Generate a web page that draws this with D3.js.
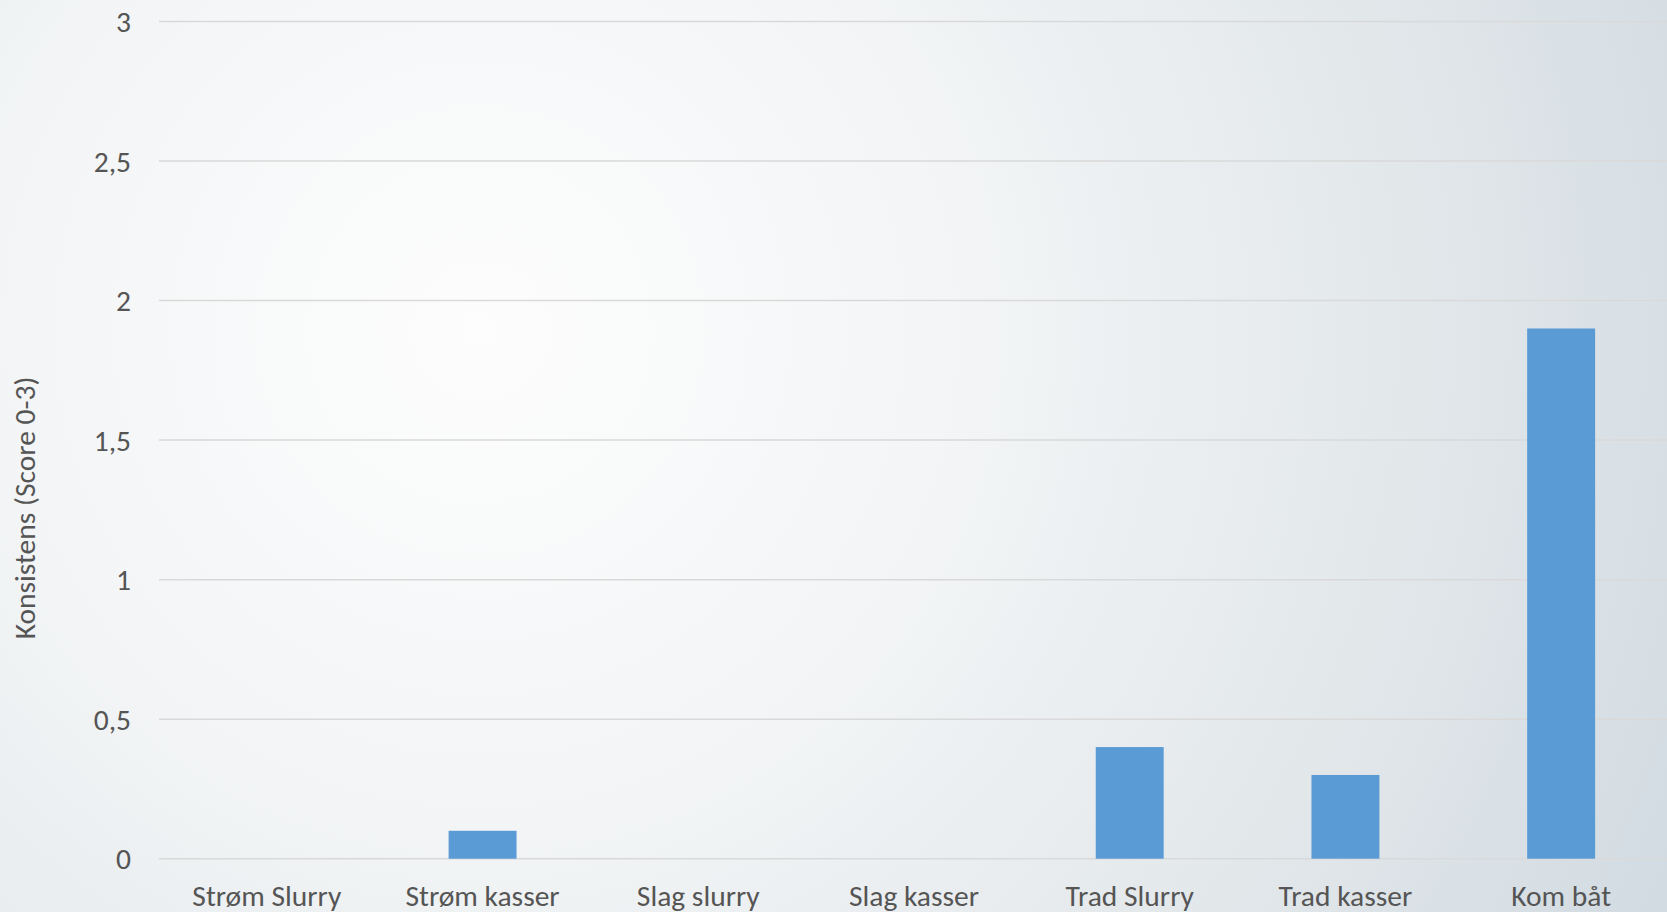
<!DOCTYPE html>
<html>
<head>
<meta charset="utf-8">
<script src="https://cdn.jsdelivr.net/npm/d3@7"></script>
<style>
  html, body { margin: 0; padding: 0; overflow: hidden; }
  body { width: 1667px; height: 912px; }
  text { font-family: Carlito, Calibri, Lato, sans-serif; fill: #555555; }
</style>
</head>
<body>
<div id="chart"></div>
<script>
// data
const categories = ["Strøm Slurry", "Strøm kasser", "Slag slurry", "Slag kasser", "Trad Slurry", "Trad kasser", "Kom båt"];
const values = [0, 0.1, 0, 0, 0.4, 0.3, 1.9];
const yTicks = [0, 0.5, 1, 1.5, 2, 2.5, 3];
const yTitle = "Konsistens (Score 0-3)";

const W = 1667, H = 912;
const margin = { top: 21.5, right: -2, bottom: 53.3, left: 159 };
const fontSize = 29.5;

const svg = d3.select("#chart").append("svg")
    .attr("width", W)
    .attr("height", H);

// background gradient
const defs = svg.append("defs");
const grad = defs.append("radialGradient")
    .attr("id", "bg")
    .attr("gradientUnits", "userSpaceOnUse")
    .attr("cx", 480).attr("cy", 330)
    .attr("r", 1350);
grad.append("stop").attr("offset", "0").attr("stop-color", "#fdfdfd");
grad.append("stop").attr("offset", "0.35").attr("stop-color", "#f3f5f6");
grad.append("stop").attr("offset", "0.7").attr("stop-color", "#e2e7ea");
grad.append("stop").attr("offset", "1").attr("stop-color", "#d0dae1");

svg.append("rect")
    .attr("width", W).attr("height", H)
    .attr("fill", "url(#bg)");

const x = d3.scaleBand()
    .domain(categories)
    .range([margin.left, W - margin.right])
    .padding(0);

const y = d3.scaleLinear()
    .domain([0, 3])
    .range([H - margin.bottom, margin.top]);

// gridlines
svg.append("g")
    .selectAll("line")
    .data(yTicks)
    .join("line")
    .attr("x1", margin.left)
    .attr("x2", W)
    .attr("y1", d => y(d))
    .attr("y2", d => y(d))
    .attr("stroke", "#d9d9d9")
    .attr("stroke-width", 1.5);

// y tick labels
const fmt = d => String(d).replace(".", ",");
svg.append("g")
    .selectAll("text")
    .data(yTicks)
    .join("text")
    .attr("x", 131)
    .attr("y", d => y(d))
    .attr("dy", "0.36em")
    .attr("text-anchor", "end")
    .attr("font-size", fontSize)
    .text(fmt);

// bars
const barW = x.bandwidth() * 0.315;
svg.append("g")
    .selectAll("rect")
    .data(categories.map((c, i) => ({ c, v: values[i] })))
    .join("rect")
    .attr("x", d => x(d.c) + x.bandwidth() / 2 - barW / 2)
    .attr("width", barW)
    .attr("y", d => y(d.v))
    .attr("height", d => y(0) - y(d.v))
    .attr("fill", "#5b9bd5");

// x labels
svg.append("g")
    .selectAll("text")
    .data(categories)
    .join("text")
    .attr("x", d => x(d) + x.bandwidth() / 2)
    .attr("y", 906)
    .attr("text-anchor", "middle")
    .attr("font-size", fontSize)
    .text(d => d);

// y axis title
svg.append("text")
    .attr("transform", "translate(35,508) rotate(-90)")
    .attr("text-anchor", "middle")
    .attr("font-size", fontSize)
    .text(yTitle);
</script>
</body>
</html>
